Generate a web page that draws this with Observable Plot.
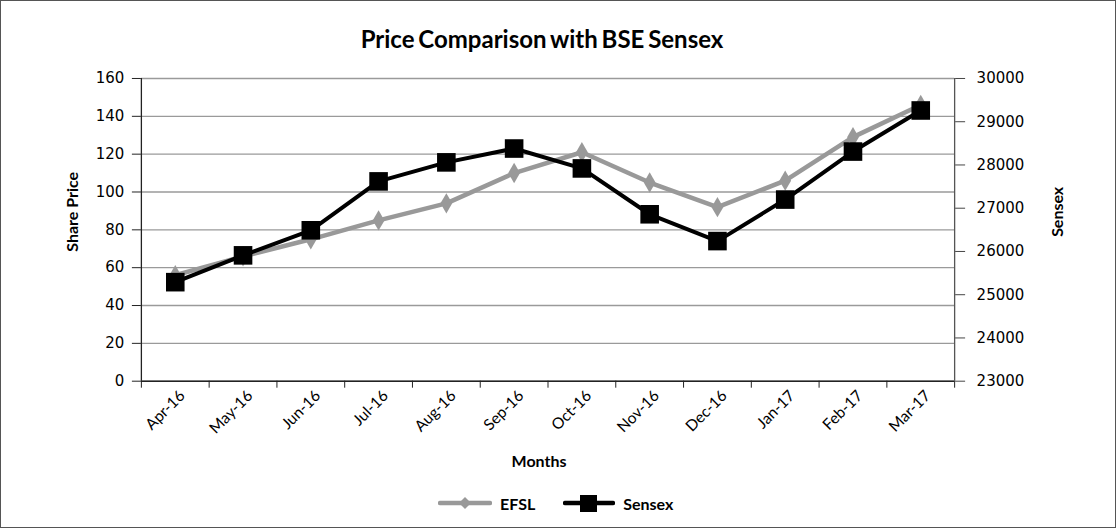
<!DOCTYPE html>
<html><head><meta charset="utf-8">
<script src="https://cdn.jsdelivr.net/npm/d3@7"></script>
<script src="https://cdn.jsdelivr.net/npm/@observablehq/plot@0.6"></script>
<style>
body{margin:0;background:#fff;font-family:Lato,"Open Sans",sans-serif;}
#wrap{position:relative;width:1116px;height:528px;box-sizing:border-box;border:1px solid #555;overflow:hidden;}
#title{position:absolute;top:23px;left:0;width:1082px;text-align:center;font-weight:bold;font-size:24px;line-height:30px;word-spacing:-2px;color:#000;}
#chart{position:absolute;top:52px;left:-1px;}
#legend{position:absolute;top:491px;left:437px;display:flex;align-items:center;font-weight:bold;font-size:16px;color:#000;}
#legend svg{margin-right:8px;}
#legend span.l1{margin-right:28px;}
</style></head>
<body><div id="wrap">
<div id="title">Price Comparison with BSE Sensex</div>
<div id="chart"></div>
<div id="legend">
<svg width="54" height="22"><line x1="2" y1="11" x2="52" y2="11" stroke="#999" stroke-width="4.5" stroke-linecap="round"/><path d="M27 5 L33 11 L27 17 L21 11 Z" fill="#999"/></svg><span class="l1">EFSL</span>
<svg width="52" height="22"><line x1="2" y1="11" x2="50" y2="11" stroke="#000" stroke-width="4.5" stroke-linecap="round"/><rect x="17" y="3" width="17" height="17" fill="#000"/></svg><span>Sensex</span>
</div>
</div>
<script>
const months = ["Apr-16","May-16","Jun-16","Jul-16","Aug-16","Sep-16","Oct-16","Nov-16","Dec-16","Jan-17","Feb-17","Mar-17"];
const efsl = [56,66,75,85,94,110,121,105,92,106,129,146];
const sensex = [25290,25910,26490,27620,28060,28380,27920,26860,26240,27200,28310,29260];
const leftTicks = [0,20,40,60,80,100,120,140,160];
const rightTicks = [23000,24000,25000,26000,27000,28000,29000,30000];

const leftMax = 160, rightMin = 23000, rightMax = 30000;
const toLeft = v => (v - rightMin) * leftMax / (rightMax - rightMin);
const fromLeft = v => rightMin + v * (rightMax - rightMin) / leftMax;
const data = months.map((m, i) => ({i, month: m, efsl: efsl[i], sensex: sensex[i]}));
const numFont = "'DejaVu Sans', Verdana, sans-serif";

const chart = Plot.plot({
  width: 1116, height: 423,
  marginLeft: 141, marginRight: 161, marginTop: 25, marginBottom: 95,
  x: {domain: [0, months.length]},
  y: {domain: [0, leftMax]},
  style: {fontFamily: "Lato, 'Open Sans', sans-serif", fontSize: "14px", color: "#000", background: "transparent"},
  marks: [
    Plot.gridY(leftTicks, {stroke: "#9a9a9a", strokeOpacity: 1, strokeWidth: 1.3}),
    Plot.ruleX([0], {stroke: "#222", strokeWidth: 1.3}),
    Plot.ruleX([months.length], {stroke: "#555", strokeWidth: 1.3}),
    Plot.ruleY([0], {stroke: "#222", strokeWidth: 1.5}),
    Plot.axisY(leftTicks, {anchor: "left", tickSize: 9, tickPadding: 8, label: null, stroke: "#222",
      fontFamily: numFont, fontSize: 15}),
    Plot.axisY(rightTicks.map(toLeft), {anchor: "right", tickSize: 10, tickPadding: 12, label: null, stroke: "#444",
      fontFamily: numFont, fontSize: 15, tickFormat: v => String(Math.round(fromLeft(v)))}),
    Plot.axisX(d3.range(months.length + 1), {anchor: "bottom", tickSize: 7, tickFormat: () => "", label: null, stroke: "#222"}),
    Plot.axisX(d3.range(months.length).map(i => i + 0.5), {anchor: "bottom", tickSize: 0, tickPadding: 12, tickRotate: -45,
      dx: 7, fontSize: 15.5, tickFormat: v => months[Math.floor(v)], label: null}),
    Plot.text(["Share Price"], {frameAnchor: "left", textAnchor: "middle", lineAnchor: "middle", dx: -69, dy: -18, rotate: -90, fontWeight: "bold", fontSize: 16}),
    Plot.text(["Sensex"], {frameAnchor: "right", textAnchor: "middle", lineAnchor: "middle", dx: 103, dy: -18, rotate: -90, fontWeight: "bold", fontSize: 16}),
    Plot.text(["Months"], {frameAnchor: "bottom", textAnchor: "middle", lineAnchor: "middle", dy: 81, dx: -9, fontWeight: "bold", fontSize: 16}),
    Plot.line(data, {x: d => d.i + 0.5, y: "efsl", stroke: "#999", strokeWidth: 4.5}),
    Plot.dot(data, {x: d => d.i + 0.5, y: "efsl", symbol: "diamond", r: 6.2, fill: "#999", stroke: "none"}),
    Plot.line(data, {x: d => d.i + 0.5, y: d => toLeft(d.sensex), stroke: "#000", strokeWidth: 4}),
    Plot.dot(data, {x: d => d.i + 0.5, y: d => toLeft(d.sensex), symbol: "square", r: 10.5, fill: "#000", stroke: "none"})
  ]
});
document.getElementById("chart").append(chart);
</script>
</body></html>
